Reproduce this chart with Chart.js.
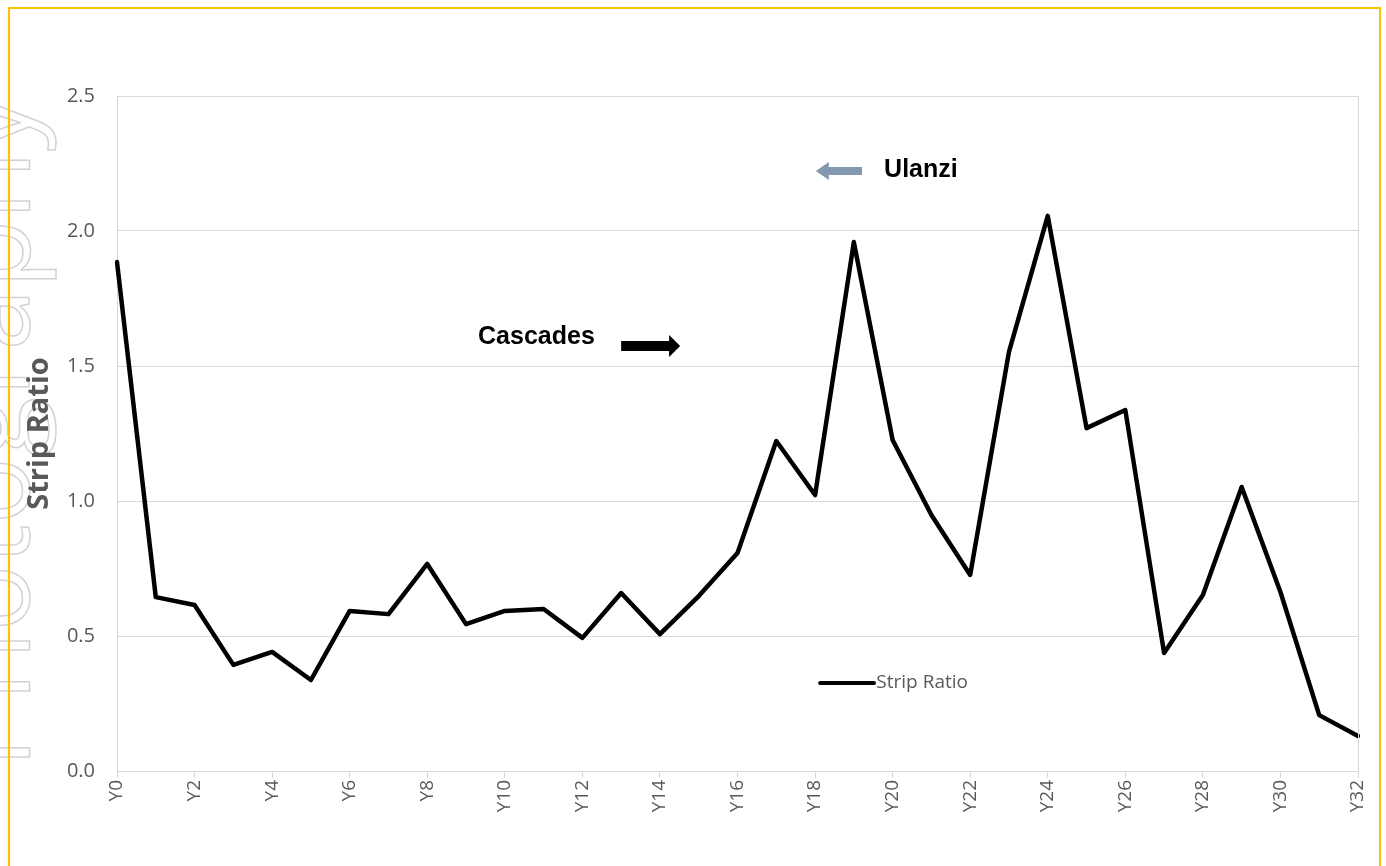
<!DOCTYPE html>
<html>
<head>
<meta charset="utf-8">
<script src="https://cdn.jsdelivr.net/npm/chart.js@4.4.1/dist/chart.umd.min.js"></script>
<style>
  html, body { margin: 0; padding: 0; background: #fff; overflow: hidden; }
  #wrap { position: absolute; left: 0; top: 0; width: 1386px; height: 866px; }
  #frame { position: absolute; left: 8px; top: 7px; width: 1373px; height: 900px;
           border: 2px solid #FFC000; box-sizing: border-box; pointer-events: none; }
</style>
</head>
<body>
<div id="wrap"><canvas id="grafico" width="1386" height="866"></canvas></div>
<div id="frame"></div>
<script>
// categorias Y0..Y32
var anios = [];
for (var i = 0; i <= 32; i++) anios.push("Y" + i);

// valores
var stripRatio = [1.885, 0.644, 0.615, 0.393, 0.441, 0.337, 0.593, 0.581, 0.767, 0.544,
                  0.593, 0.600, 0.493, 0.659, 0.507, 0.648, 0.807, 1.222, 1.022, 1.959,
                  1.226, 0.948, 0.726, 1.552, 2.056, 1.270, 1.337, 0.437, 0.652, 1.052,
                  0.663, 0.207, 0.130];

var yTicks = [0, 0.5, 1.0, 1.5, 2.0, 2.5];
var nombreSerie = "Strip Ratio";

var gris = "#595959";
var rejilla = "#d9d9d9";

/**
 * Dibuja marca de agua, borde derecho, leyenda interna y flechas
 */
var extras = {
    id: 'extras',
    beforeDraw: function(chart) {
        var ctx = chart.ctx;
        // marca de agua
        ctx.save();
        ctx.translate(29, 95);
        ctx.rotate(-Math.PI / 2);
        ctx.font = "112px 'Open Sans'";
        ctx.textAlign = 'right';
        ctx.textBaseline = 'alphabetic';
        ctx.strokeStyle = '#d2d2d2';
        ctx.lineWidth = 1.5;
        ctx.strokeText('Photography', 0, 0);
        ctx.restore();
    },
    afterDraw: function(chart) {
        var ctx = chart.ctx;
        var a = chart.chartArea;
        var xs = chart.scales.x, ys = chart.scales.y;
        var px = function(v) { return xs.getPixelForValue(v); };
        var py = function(v) { return ys.getPixelForValue(v); };

        ctx.save();
        // borde derecho del area
        ctx.strokeStyle = rejilla;
        ctx.lineWidth = 1;
        ctx.beginPath();
        ctx.moveTo(Math.round(a.right) + 0.5, a.top);
        ctx.lineTo(Math.round(a.right) + 0.5, a.bottom);
        ctx.stroke();

        // leyenda dentro del grafico
        var ly = py(0.326);
        ctx.strokeStyle = '#000';
        ctx.lineWidth = 4;
        ctx.lineCap = 'round';
        ctx.beginPath();
        ctx.moveTo(px(18.13), ly);
        ctx.lineTo(px(19.52), ly);
        ctx.stroke();
        ctx.fillStyle = gris;
        ctx.font = "19px 'Open Sans'";
        ctx.textBaseline = 'middle';
        ctx.textAlign = 'left';
        ctx.fillText(nombreSerie, px(19.58), ly);

        // textos de anotacion
        ctx.fillStyle = '#000';
        ctx.font = "bold 25px 'Liberation Sans'";
        ctx.fillText('Ulanzi', px(19.78), py(2.226));
        ctx.fillText('Cascades', px(9.31), py(1.607));

        // flechas
        flecha(ctx, px(19.21), px(18.02), py(2.222), 8, 18, 13, '#8497B0');
        flecha(ctx, px(13.0), px(14.52), py(1.574), 10, 22, 11, '#000');
        ctx.restore();
    }
};

function flecha(ctx, x0, x1, y, grosor, alto, punta, color) {
    var dir = x1 > x0 ? 1 : -1;
    var xb = x1 - dir * punta;
    ctx.fillStyle = color;
    ctx.beginPath();
    ctx.moveTo(x0, y - grosor / 2);
    ctx.lineTo(xb, y - grosor / 2);
    ctx.lineTo(xb, y - alto / 2);
    ctx.lineTo(x1, y);
    ctx.lineTo(xb, y + alto / 2);
    ctx.lineTo(xb, y + grosor / 2);
    ctx.lineTo(x0, y + grosor / 2);
    ctx.closePath();
    ctx.fill();
}

var ctx = document.getElementById('grafico').getContext('2d');
new Chart(ctx, {
    type: 'line',
    data: {
        labels: anios,
        datasets: [{
            label: nombreSerie,
            data: stripRatio,
            borderColor: '#000',
            borderWidth: 4.5,
            pointRadius: 0,
            tension: 0,
            borderJoinStyle: 'round',
            borderCapStyle: 'round'
        }]
    },
    options: {
        responsive: false,
        animation: false,
        layout: { padding: { left: 0, top: 96, right: 28, bottom: 0 } },
        plugins: {
            legend: { display: false },
            tooltip: { enabled: false }
        },
        scales: {
            x: {
                afterFit: function(s) { s.height = 95; },
                grid: { drawOnChartArea: false, color: rejilla, tickLength: 7 },
                border: { color: rejilla },
                ticks: {
                    autoSkip: false,
                    maxRotation: 90,
                    minRotation: 90,
                    padding: 2,
                    color: gris,
                    font: { family: 'Open Sans', size: 19 },
                    callback: function(v, idx) { return idx % 2 === 0 ? anios[idx] : null; }
                }
            },
            y: {
                min: 0,
                max: 2.5,
                afterFit: function(s) { s.width = 117; },
                afterBuildTicks: function(s) { s.ticks = yTicks.map(function(v) { return { value: v }; }); },
                grid: { color: rejilla, drawTicks: false },
                border: { color: rejilla },
                ticks: {
                    padding: 22,
                    color: gris,
                    font: { family: 'Open Sans', size: 20 },
                    callback: function(v) { return v.toFixed(1); }
                },
                title: {
                    display: true,
                    text: nombreSerie,
                    color: gris,
                    font: { family: 'Open Sans', size: 29, weight: 'bold' },
                    padding: { top: 22, bottom: 0 }
                }
            }
        }
    },
    plugins: [extras]
});
</script>
</body>
</html>
